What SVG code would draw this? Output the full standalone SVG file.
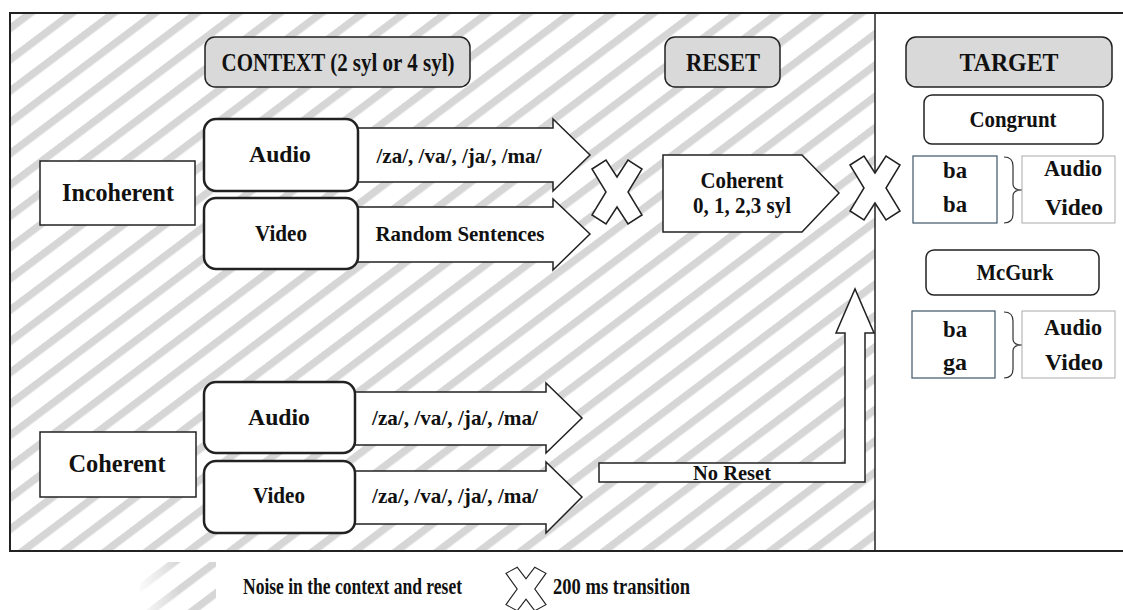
<svg xmlns="http://www.w3.org/2000/svg" width="1123" height="610" viewBox="0 0 1123 610">
<defs>
<pattern id="hatch" patternUnits="userSpaceOnUse" width="25" height="25" patternTransform="rotate(-37)">
<rect x="0" y="0" width="25" height="7.5" fill="#d6d6d6"/>
</pattern>
<path id="xmark" d="M-25,-23 L-11,-32 L0,-15 L11,-32 L25,-23 L11,0 L25,23 L11,32 L0,15 L-11,32 L-25,23 L-11,0 Z"/>
<linearGradient id="fade" x1="0" y1="0" x2="1" y2="0">
<stop offset="0" stop-color="#fff" stop-opacity="0.1"/>
<stop offset="0.5" stop-color="#fff" stop-opacity="1"/>
</linearGradient>
<mask id="fadeMask"><rect x="140" y="560" width="80" height="50" fill="url(#fade)"/></mask>
</defs>
<style>
text{font-family:"Liberation Serif","Times New Roman",serif;font-weight:bold;fill:#111;text-anchor:middle}
.hdr{fill:#d9d9d9;stroke:#222;stroke-width:1.5}
.box{fill:#fff;stroke:#222;stroke-width:1.5}
.rbox{fill:#fff;stroke:#222;stroke-width:2.5}
.arr{fill:#fff;stroke:#222;stroke-width:1.5;stroke-linejoin:miter}
.xm{fill:#fff;stroke:#222;stroke-width:1.5}
.tb1{fill:#fff;stroke:#3d5566;stroke-width:1.2}
.tb2{fill:#fff;stroke:#aaa;stroke-width:1}
.brace{fill:none;stroke:#333;stroke-width:1.2}
.f26{font-size:26px}
.f23{font-size:23px}
.f22{font-size:22px}
.leg{text-anchor:start;font-size:23px}
</style>
<rect width="1123" height="610" fill="#fff"/>
<g id="background">
<rect x="10" y="13" width="865" height="538" fill="url(#hatch)"/>
<path d="M1123,13 H10 V551 H1123" fill="none" stroke="#222" stroke-width="2"/>
<line x1="875" y1="13" x2="875" y2="551" stroke="#222" stroke-width="1.5"/>
</g>
<g id="connectors">
<polygon class="arr" points="355,128 553,128 553,119 590,155 553,191 553,182 355,182"/>
<polygon class="arr" points="355,207 553,207 553,199 590,234 553,270 553,262 355,262"/>
<polygon class="arr" points="352,392 546,392 546,383 582,418 546,453 546,445 352,445"/>
<polygon class="arr" points="352,471 546,471 546,462 582,497 546,533 546,524 352,524"/>
<polygon class="arr" points="599,463 845,463 845,333 836,333 855,289 874,333 865,333 865,482 599,482"/>
<text class="f22" x="459" y="163" textLength="165" lengthAdjust="spacingAndGlyphs">/za/, /va/, /ja/, /ma/</text>
<text class="f22" x="460" y="241" textLength="169" lengthAdjust="spacingAndGlyphs">Random Sentences</text>
<text class="f22" x="455" y="425" textLength="166" lengthAdjust="spacingAndGlyphs">/za/, /va/, /ja/, /ma/</text>
<text class="f22" x="455" y="503" textLength="166" lengthAdjust="spacingAndGlyphs">/za/, /va/, /ja/, /ma/</text>
<text class="f22" x="732" y="480" textLength="78" lengthAdjust="spacingAndGlyphs">No Reset</text>
<use href="#xmark" class="xm" transform="translate(617,192)"/>
<use href="#xmark" class="xm" transform="translate(875,188)"/>
</g>
<g id="context-header">
<rect class="hdr" x="205" y="37" width="265" height="50" rx="10"/>
<text class="f26" x="338" y="71" textLength="233" lengthAdjust="spacingAndGlyphs">CONTEXT (2 syl or 4 syl)</text>
</g>
<g id="reset-header">
<rect class="hdr" x="665" y="37" width="115" height="50" rx="10"/>
<text class="f26" x="723" y="71" textLength="74" lengthAdjust="spacingAndGlyphs">RESET</text>
</g>
<g id="target-header">
<rect class="hdr" x="906" y="37" width="206" height="50" rx="10"/>
<text class="f26" x="1009" y="71" textLength="99" lengthAdjust="spacingAndGlyphs">TARGET</text>
</g>
<g id="incoherent">
<rect class="box" x="40" y="161" width="155" height="64"/>
<text class="f26" x="118" y="201" textLength="112" lengthAdjust="spacingAndGlyphs">Incoherent</text>
</g>
<g id="inc-audio">
<rect class="rbox" x="204" y="119" width="154" height="72" rx="12"/>
<text class="f23" x="280" y="162" textLength="62" lengthAdjust="spacingAndGlyphs">Audio</text>
</g>
<g id="inc-video">
<rect class="rbox" x="204" y="198" width="154" height="71" rx="12"/>
<text class="f23" x="281" y="241" textLength="52" lengthAdjust="spacingAndGlyphs">Video</text>
</g>
<g id="reset-coherent">
<polygon class="box" points="663,155 802,155 839,193 802,232 663,232"/>
<text class="f23" x="742" y="188" textLength="83" lengthAdjust="spacingAndGlyphs">Coherent</text>
<text class="f23" x="742" y="213" textLength="98" lengthAdjust="spacingAndGlyphs">0, 1, 2,3 syl</text>
</g>
<g id="coherent">
<rect class="box" x="40" y="432" width="156" height="65"/>
<text class="f26" x="117" y="472" textLength="97" lengthAdjust="spacingAndGlyphs">Coherent</text>
</g>
<g id="coh-audio">
<rect class="rbox" x="204" y="382" width="151" height="71" rx="12"/>
<text class="f23" x="279" y="425" textLength="62" lengthAdjust="spacingAndGlyphs">Audio</text>
</g>
<g id="coh-video">
<rect class="rbox" x="204" y="461" width="151" height="72" rx="12"/>
<text class="f23" x="279" y="503" textLength="52" lengthAdjust="spacingAndGlyphs">Video</text>
</g>
<g id="congrunt">
<rect class="box" x="924" y="95" width="179" height="49" rx="8"/>
<text class="f23" x="1013" y="127" textLength="87" lengthAdjust="spacingAndGlyphs">Congrunt</text>
</g>
<g id="congrunt-stim">
<rect class="tb1" x="913" y="156" width="84" height="67"/>
<text class="f23" x="955" y="178" textLength="24" lengthAdjust="spacingAndGlyphs">ba</text>
<text class="f23" x="955" y="212" textLength="24" lengthAdjust="spacingAndGlyphs">ba</text>
<path class="brace" d="M1004,157 Q1013,157 1013,166 V184 Q1013,190 1022,190 Q1013,190 1013,196 V214 Q1013,223 1004,223"/>
<rect class="tb2" x="1022" y="156" width="93" height="67"/>
<text class="f23" x="1073" y="176" textLength="58" lengthAdjust="spacingAndGlyphs">Audio</text>
<text class="f23" x="1074" y="215" textLength="58" lengthAdjust="spacingAndGlyphs">Video</text>
</g>
<g id="mcgurk">
<rect class="box" x="926" y="250" width="173" height="45" rx="8"/>
<text class="f23" x="1015" y="280" textLength="77" lengthAdjust="spacingAndGlyphs">McGurk</text>
</g>
<g id="mcgurk-stim">
<rect class="tb1" x="912" y="311" width="83" height="67"/>
<text class="f23" x="955" y="337" textLength="24" lengthAdjust="spacingAndGlyphs">ba</text>
<text class="f23" x="955" y="370" textLength="24" lengthAdjust="spacingAndGlyphs">ga</text>
<path class="brace" d="M1004,312 Q1013,312 1013,321 V339 Q1013,345 1022,345 Q1013,345 1013,351 V369 Q1013,378 1004,378"/>
<rect class="tb2" x="1022" y="311" width="93" height="67"/>
<text class="f23" x="1073" y="335" textLength="58" lengthAdjust="spacingAndGlyphs">Audio</text>
<text class="f23" x="1074" y="370" textLength="58" lengthAdjust="spacingAndGlyphs">Video</text>
</g>
<g id="legend">
<rect x="140" y="562" width="76" height="48" fill="url(#hatch)" mask="url(#fadeMask)"/>
<text class="leg" x="243" y="594" textLength="219" lengthAdjust="spacingAndGlyphs">Noise in the context and reset</text>
<use href="#xmark" class="xm" transform="translate(526,589) scale(0.8,0.68)" stroke-width="1.8"/>
<text class="leg" x="553" y="594" textLength="137" lengthAdjust="spacingAndGlyphs">200 ms transition</text>
</g>
</svg>
